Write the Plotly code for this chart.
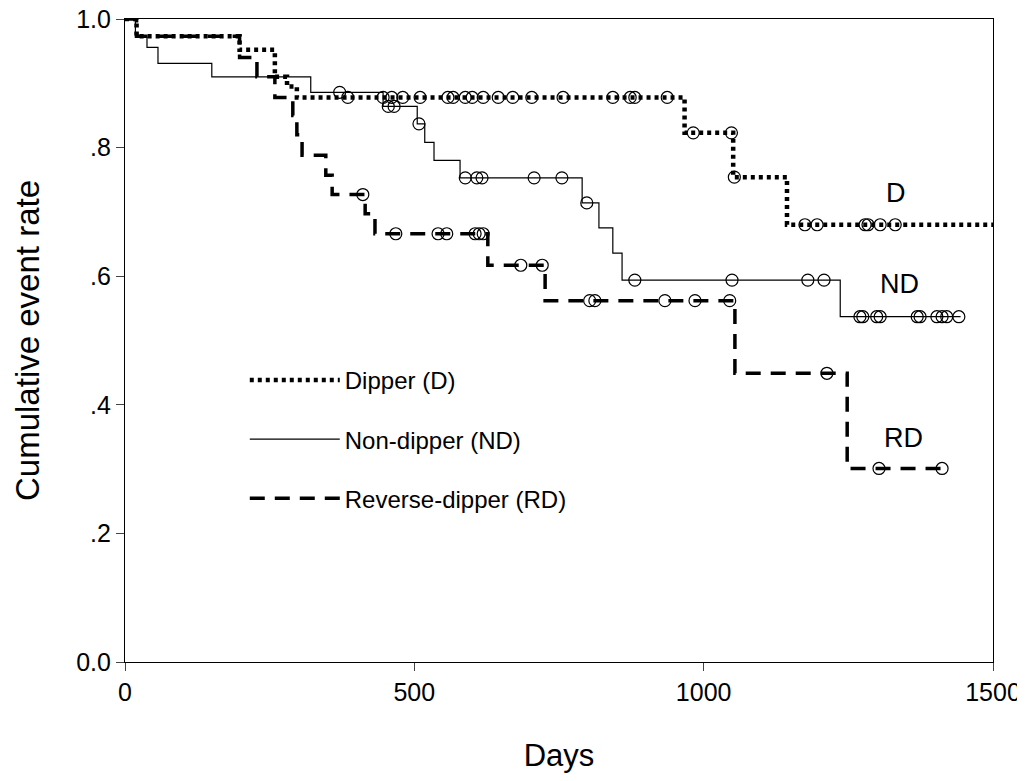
import numpy as np
import plotly.graph_objects as go

# ---- data ----
# Dipper (D)
d_times = [0, 20, 198, 259, 280, 297, 967, 1051, 1144, 1500]
d_surv = [1.0, 0.973, 0.952, 0.910, 0.895, 0.878, 0.823, 0.754, 0.680, 0.680]
d_censor = [385, 446, 461, 480, 510, 558, 567, 588, 600, 619, 645, 670, 703, 757,
            843, 873, 881, 937, 982, 1048, 1053, 1175, 1196, 1279, 1284, 1305, 1331]

# Non-dipper (ND)
nd_times = [0, 18, 38, 57, 150, 321, 446, 505, 518, 534, 579, 790, 819, 843, 859, 1236, 1444]
nd_surv = [1.0, 0.972, 0.956, 0.931, 0.910, 0.886, 0.864, 0.837, 0.808, 0.780, 0.753,
           0.714, 0.675, 0.636, 0.594, 0.537, 0.537]
nd_censor = [371, 455, 465, 508, 588, 608, 617, 707, 755, 798, 881, 1049, 1180, 1208,
             1270, 1275, 1299, 1305, 1369, 1374, 1403, 1412, 1420, 1441]

# Reverse-dipper (RD)
rd_times = [0, 20, 198, 228, 259, 290, 297, 306, 347, 358, 415, 432, 627, 726, 1054, 1248, 1418]
rd_surv = [1.0, 0.973, 0.940, 0.910, 0.878, 0.850, 0.820, 0.788, 0.757, 0.727, 0.697,
           0.666, 0.617, 0.562, 0.449, 0.301, 0.301]
rd_censor = [411, 468, 541, 556, 605, 612, 619, 684, 721, 803, 812, 933, 985, 1045,
             1213, 1303, 1412]

x_ticks = [0, 500, 1000, 1500]
y_ticks = [0.0, 0.2, 0.4, 0.6, 0.8, 1.0]
y_ticklabels = ["0.0", ".2", ".4", ".6", ".8", "1.0"]

labels = [("D", 1332, 0.729), ("ND", 1339, 0.588), ("RD", 1346, 0.348)]


def step_value(times, surv, t):
    idx = np.searchsorted(np.array(times), t, side="right") - 1
    return [surv[i] for i in idx]


FONT = "Liberation Sans, Arial, sans-serif"
fig = go.Figure()

series = [
    ("Dipper (D)", d_times, d_surv, d_censor, dict(color="black", width=4.5, dash="4px,4px")),
    ("Non-dipper (ND)", nd_times, nd_surv, nd_censor, dict(color="black", width=1.2)),
    ("Reverse-dipper (RD)", rd_times, rd_surv, rd_censor, dict(color="black", width=3.5, dash="15px,10px")),
]

for i, (name, t, s, c, line) in enumerate(series):
    fig.add_trace(go.Scatter(x=t, y=s, mode="lines", line_shape="hv", line=line,
                             name=name, legendgroup=str(i), hoverinfo="skip", cliponaxis=False))
for i, (name, t, s, c, line) in enumerate(series):
    fig.add_trace(go.Scatter(x=c, y=step_value(t, s, c), mode="markers",
                             marker=dict(symbol="circle-open", size=12, color="black",
                                         line=dict(width=1.2, color="black")),
                             showlegend=False, hoverinfo="skip"))

for txt, x, y in labels:
    fig.add_annotation(x=x, y=y, text=txt, showarrow=False,
                       font=dict(family=FONT, size=27, color="black"))

fig.update_layout(
    width=1017, height=765,
    margin=dict(l=117, r=32, t=11, b=111),
    paper_bgcolor="white", plot_bgcolor="white",
    font=dict(family=FONT, color="black"),
    showlegend=True,
    legend=dict(x=0.138, y=0.473, xanchor="left", yanchor="top",
                bgcolor="rgba(0,0,0,0)", font=dict(family=FONT, size=24),
                itemwidth=90, tracegroupgap=25),
)
fig.update_xaxes(range=[0, 1500], tickvals=x_ticks, ticks="outside", ticklen=8,
                 showline=True, linecolor="black", linewidth=1.2, mirror=True,
                 showgrid=False, zeroline=False, automargin=False,
                 ticklabeloverflow="allow",
                 tickfont=dict(family=FONT, size=25),
                 title=dict(text="Days", font=dict(family=FONT, size=31), standoff=44))
fig.update_yaxes(range=[0, 1.0], tickvals=y_ticks, ticktext=y_ticklabels,
                 ticks="outside", ticklen=8,
                 showline=True, linecolor="black", linewidth=1.2, mirror=True,
                 showgrid=False, zeroline=False, automargin=False,
                 ticklabeloverflow="allow",
                 tickfont=dict(family=FONT, size=25),
                 title=dict(text="Cumulative event rate", font=dict(family=FONT, size=33), standoff=26))

fig.write_html("out.html")
